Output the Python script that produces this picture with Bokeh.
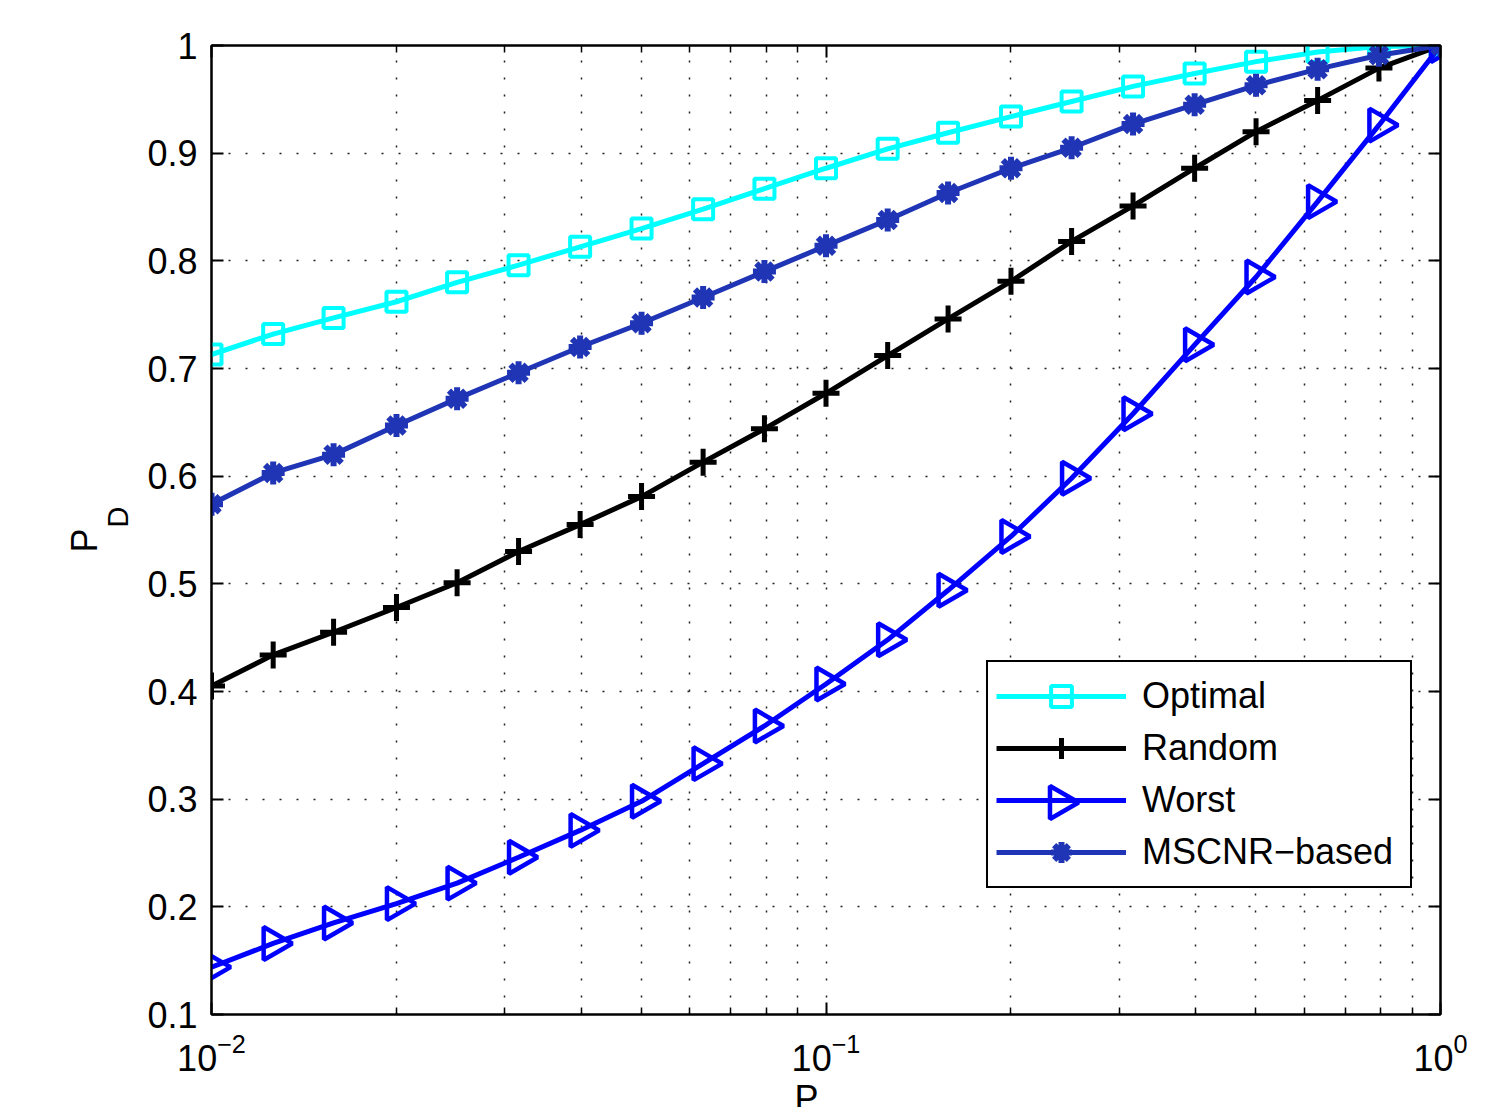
import math
from bokeh.plotting import figure
from bokeh.models import (Range1d, FixedTicker, LogAxis, LinearAxis, Legend, LegendItem,
                          Title, CustomJSTickFormatter, LogTickFormatter)
from bokeh.embed import file_html
from bokeh.resources import INLINE

# ---- data ----
pf = [0.01, 0.0126, 0.0158, 0.02, 0.0251, 0.0316, 0.0398, 0.0501, 0.0631, 0.0794,
      0.1, 0.126, 0.158, 0.2, 0.251, 0.316, 0.398, 0.501, 0.631, 0.794, 1.0]
optimal = [0.713, 0.732, 0.747, 0.762, 0.780, 0.796, 0.813, 0.830, 0.848, 0.867,
           0.886, 0.904, 0.919, 0.934, 0.948, 0.962, 0.974, 0.985, 0.994, 0.999, 1.0]
random_ = [0.405, 0.434, 0.455, 0.478, 0.501, 0.530, 0.555, 0.581, 0.613, 0.644,
           0.677, 0.712, 0.746, 0.781, 0.818, 0.851, 0.886, 0.920, 0.949, 0.979, 1.0]
worst = [0.144, 0.166, 0.185, 0.203, 0.222, 0.246, 0.271, 0.298, 0.333, 0.368,
         0.407, 0.448, 0.494, 0.544, 0.598, 0.658, 0.722, 0.785, 0.855, 0.926, 1.0]
mscnr = [0.574, 0.603, 0.620, 0.647, 0.672, 0.696, 0.720, 0.742, 0.766, 0.790,
         0.814, 0.838, 0.863, 0.886, 0.905, 0.927, 0.945, 0.963, 0.978, 0.991, 1.0]
series_names = ["Optimal", "Random", "Worst", "MSCNR\u2212based"]
y_ticks = [0.1, 0.2, 0.3, 0.4, 0.5, 0.6, 0.7, 0.8, 0.9, 1.0]
x_major = [0.01, 0.1, 1.0]
x_minor = [0.02, 0.03, 0.04, 0.05, 0.06, 0.07, 0.08, 0.09,
           0.2, 0.3, 0.4, 0.5, 0.6, 0.7, 0.8, 0.9]

FONT = "Liberation Sans"
FS = "36px"

X0, X1, Y0, Y1 = 0.01, 1.0, 0.1, 1.0
W, H = 1500, 1124
L, T = 211, 45
FW, FH = 1229, 969
R, B = W - L - FW, H - T - FH

def px_to_x(px):
    return 10 ** (math.log10(X0) + px / FW * (math.log10(X1) - math.log10(X0)))

def px_to_y(py):
    return Y0 + py / FH * (Y1 - Y0)

p = figure(width=W, height=H, x_axis_type="log", output_backend="svg",
           toolbar_location=None, x_range=Range1d(X0, X1), y_range=Range1d(Y0, Y1),
           min_border_left=L, min_border_top=T, min_border_right=R, min_border_bottom=B,
           background_fill_color="white", border_fill_color="white")
p.outline_line_color = "black"
p.outline_line_width = 2

xt = FixedTicker(ticks=x_major, minor_ticks=x_minor)
yt = FixedTicker(ticks=y_ticks, minor_ticks=[])
yfmt = CustomJSTickFormatter(code="return (Math.round(tick*10)/10).toString();")

def style_axis(ax, labels=True, minor=False):
    ax.axis_line_color = "black"
    ax.axis_line_width = 2
    ax.major_tick_in = 12
    ax.major_tick_out = 0
    ax.major_tick_line_width = 2
    ax.major_tick_line_color = "black"
    if minor:
        ax.minor_tick_in = 7
        ax.minor_tick_out = 0
        ax.minor_tick_line_width = 1.5
        ax.minor_tick_line_color = "black"
    else:
        ax.minor_tick_line_color = None
    ax.major_label_text_font = FONT
    ax.major_label_text_font_size = FS
    ax.major_label_text_color = "black"
    if not labels:
        ax.major_label_text_font_size = "0px"
        ax.major_label_text_color = None

xa = p.xaxis[0]
xa.ticker = xt
xa.formatter = LogTickFormatter()
style_axis(xa, minor=True)
xa.major_label_standoff = 18

ya = p.yaxis[0]
ya.ticker = yt
ya.formatter = yfmt
style_axis(ya)
ya.major_label_standoff = 14

top = LogAxis(ticker=xt)
style_axis(top, labels=False, minor=True)
p.add_layout(top, "above")
right = LinearAxis(ticker=yt)
style_axis(right, labels=False)
p.add_layout(right, "right")

for g in (p.xgrid[0], p.ygrid[0]):
    g.grid_line_color = "#222222"
    g.grid_line_width = 1.5
    g.grid_line_dash = "2 15"
p.xgrid[0].ticker = xt
p.ygrid[0].ticker = yt
p.xgrid[0].minor_grid_line_color = "#222222"
p.xgrid[0].minor_grid_line_width = 1.5
p.xgrid[0].minor_grid_line_dash = "2 15"

# legend layout (screen px, relative to the frame's bottom-left corner)
LEG_X, LEG_Y, PAD, GW, GH, LBW, LST = 775, 126, 8, 130, 52, 260, 16
LEG_W = 2 * PAD + GW + LST + LBW
LEG_H = 2 * PAD + 4 * GH

# white backing of the legend box (hides the grid behind it)
p.quad(left=[px_to_x(LEG_X)], right=[px_to_x(LEG_X + LEG_W)],
       bottom=[px_to_y(LEG_Y)], top=[px_to_y(LEG_Y + LEG_H)],
       fill_color="white", line_color=None)

LW = 5
C_OPT, C_RND, C_WST, C_MSC = "#00ffff", "black", "#0000ff", "#1f35b5"
TRI = dict(marker="triangle", size=33, angle=-math.pi / 2,
           line_color=C_WST, line_width=4.5, fill_color=None)
l1 = p.line(pf, optimal, line_color=C_OPT, line_width=LW)
m1 = p.scatter(pf, optimal, marker="square", size=20, line_color=C_OPT,
               line_width=4, fill_color=None)
l2 = p.line(pf, random_, line_color=C_RND, line_width=LW)
m2 = p.scatter(pf, random_, marker="cross", size=27, line_color=C_RND, line_width=5)
l3 = p.line(pf, worst, line_color=C_WST, line_width=LW)
m3 = p.scatter(pf, worst, **TRI)
l4 = p.line(pf, mscnr, line_color=C_MSC, line_width=LW)
m4 = p.scatter(pf, mscnr, marker="asterisk", size=23, line_color=C_MSC, line_width=6)

# Legend glyphs are never rotated, so the right-pointing key of "Worst" is drawn
# at the centre of its legend glyph cell (converted from the legend layout).
p.scatter([px_to_x(LEG_X + PAD + GW / 2)], [px_to_y(LEG_Y + PAD + GH * 1.5)], **TRI)

items = [LegendItem(label=series_names[0], renderers=[l1, m1]),
         LegendItem(label=series_names[1], renderers=[l2, m2]),
         LegendItem(label=series_names[2], renderers=[l3]),
         LegendItem(label=series_names[3], renderers=[l4, m4])]

leg = Legend(items=items, location=(LEG_X, LEG_Y), orientation="vertical",
             label_text_font=FONT, label_text_font_size=FS, label_text_color="black",
             glyph_width=GW, glyph_height=GH, label_height=GH, label_width=LBW,
             label_standoff=LST, spacing=0, padding=PAD, margin=0,
             border_line_color="black", border_line_width=2, border_line_alpha=1.0,
             background_fill_alpha=0.0)
p.add_layout(leg, "center")

# axis labels: P with subscript D on the left, P below
p.add_layout(Title(text="D", align="left", offset=1014 - 527, standoff=22,
                   text_font=FONT, text_font_size="29px", text_font_style="normal",
                   text_color="black"), "left")
p.add_layout(Title(text="P", align="left", offset=1014 - 552, standoff=-32,
                   text_font=FONT, text_font_size=FS, text_font_style="normal",
                   text_color="black"), "left")
p.add_layout(Title(text="P", align="left", offset=794 - 211, standoff=5,
                   text_font=FONT, text_font_size=FS, text_font_style="normal",
                   text_color="black"), "below")

open("out.html", "w").write(file_html(p, INLINE))
